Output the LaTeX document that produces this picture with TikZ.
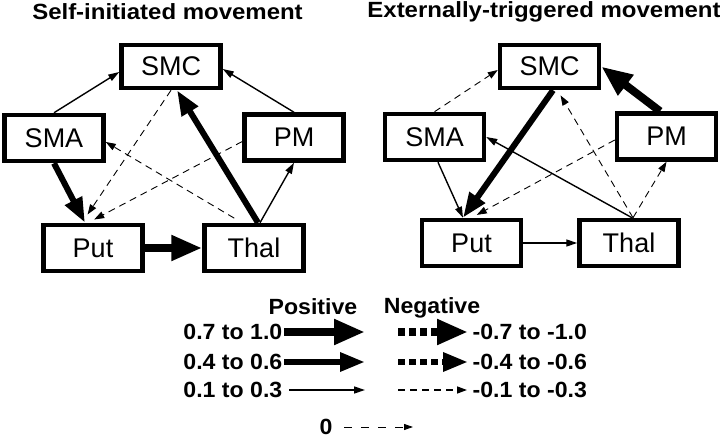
\documentclass[tikz,border=0pt]{standalone}
\usepackage{graphicx}
\usepackage{fontspec}
\setmainfont{Liberation Sans}
\usetikzlibrary{arrows.meta}
\newcommand{\stretchx}[2]{\scalebox{#1}[1]{#2}}

\begin{document}
\begin{tikzpicture}[x=1pt, y=-1pt,
  box/.style={draw, line width=4.5pt, minimum width=99pt, minimum height=46pt,
    inner sep=0pt, font=\fontsize{27}{30}\selectfont},
  title/.style={font=\fontsize{22}{24}\selectfont\bfseries},
  lab/.style={font=\fontsize{22}{24}\selectfont\bfseries, inner sep=1.5pt},
  pa/.style={line width=8pt, -{Triangle[length=31pt,width=24pt]}},
  pb/.style={line width=6pt, -{Triangle[length=25pt,width=18pt]}},
  pc/.style={line width=1.4pt, -{Triangle[length=11pt,width=7pt]}},
  na/.style={pa, dash pattern=on 7pt off 4pt},
  nb/.style={pb, dash pattern=on 7pt off 4pt},
  nc/.style={line width=0.9pt, dash pattern=on 7pt off 5pt, -{Triangle[length=10pt,width=7pt]}},
  nz/.style={line width=0.9pt, dash pattern=on 8pt off 9pt, -{Triangle[length=9pt,width=6pt]}}]
\useasboundingbox (0,0) rectangle (720,438);

%% titles
\node[title] (T1) at (167.5,11.5) {\stretchx{1.09}{Self-initiated movement}};
\node[title] (T2) at (544,11.5) {\stretchx{1.09}{Externally-triggered movement}};

%% left network
\node[box, minimum height=43pt] (SMC1) at (171,66.5) {SMC};
\node[box] (SMA1) at (54,138) {SMA};
\node[box] (PM1) at (294,137.5) {PM};
\node[box] (Put1) at (93,248) {Put};
\node[box] (Thal1) at (254,248) {Thal};

\draw[pc] (SMA1.north) -- ([yshift=-5.5pt]SMC1.west);
\draw[pc] (PM1.north) -- ([yshift=-2.5pt]SMC1.east);
\draw[nc, shorten >=10pt] (SMC1.south) -- ([xshift=-11pt]Put1.north);
\draw[nc, shorten >=7pt] ([yshift=-4pt]PM1.west) -- ([xshift=-5pt]Put1.north);
\draw[nc, shorten <=9pt] ([xshift=-12pt]Thal1.north) -- ([yshift=-4pt]SMA1.east);
\draw[pb] ([xshift=4pt]Thal1.north) -- ([xshift=6pt]SMC1.south);
\draw[pc] ([xshift=6pt]Thal1.north) -- (PM1.south);
\draw[pb] (SMA1.south) -- ([xshift=-8pt]Put1.north);
\draw[pa] (Put1.east) -- (Thal1.west);

%% right network
\node[box, minimum height=43pt] (SMC2) at (549.5,66.5) {SMC};
\node[box] (SMA2) at (434.5,137) {SMA};
\node[box] (PM2) at (666.5,136.5) {PM};
\node[box] (Put2) at (471.5,243) {Put};
\node[box] (Thal2) at (629,243) {Thal};

\draw[nc] (SMA2.north) -- ([yshift=-3.5pt]SMC2.west);
\draw[pb] ([xshift=3.5pt]SMC2.south) -- ([xshift=-8.5pt]Put2.north);
\draw[pa] ([xshift=-6.5pt]PM2.north) -- (SMC2.east);
\draw[nc, shorten >=6pt] ([xshift=4pt]Thal2.north) -- ([xshift=8pt]SMC2.south);
\draw[nc, shorten >=6pt] ([yshift=-3.5pt]PM2.west) -- (Put2.north);
\draw[pc] ([xshift=3pt]Thal2.north) -- (SMA2.east);
\draw[nc] ([xshift=4pt]Thal2.north) -- (PM2.south);
\draw[pc] ([xshift=3.5pt]SMA2.south) -- ([xshift=-8.5pt]Put2.north);
\draw[pc] (Put2.east) -- (Thal2.west);

%% legend
\node[lab] (pos) at (313,307) {\stretchx{1.05}{Positive}};
\node[lab] (neg) at (432,308) {\stretchx{1.05}{Negative}};

\node[lab, anchor=east] (r1) at (284,332) {\stretchx{1.05}{0.7 to 1.0}};
\node[lab, anchor=east] (r2) at (284,362) {\stretchx{1.05}{0.4 to 0.6}};
\node[lab, anchor=east] (r3) at (284,390) {\stretchx{1.05}{0.1 to 0.3}};
\node[lab, anchor=west] (s1) at (471,332) {\stretchx{1.05}{-0.7 to -1.0}};
\node[lab, anchor=west] (s2) at (471,362) {\stretchx{1.05}{-0.4 to -0.6}};
\node[lab, anchor=west] (s3) at (471,390) {\stretchx{1.05}{-0.1 to -0.3}};
\node[lab] (z0) at (326,427) {\stretchx{1.05}{0}};

\coordinate (p1) at (365,332);
\coordinate (p2) at (365,362);
\coordinate (p3) at (365,390);
\coordinate (q1) at (398,332);
\coordinate (q2) at (398,362);
\coordinate (q3) at (398,390);
\coordinate (z1) at (413,427);

\draw[pa] (r1.east) -- (p1);
\draw[pb] (r2.east) -- (p2);
\draw[pc, shorten <=5pt] (r3.east) -- (p3);
\draw[na, shorten >=3pt] (q1) -- (s1.west);
\draw[nb, shorten >=3pt] (q2) -- (s2.west);
\draw[nc, line width=1.3pt, shorten >=4pt] (q3) -- (s3.west);
\draw[nz, shorten <=10pt] (z0.east) -- (z1);
\end{tikzpicture}
\end{document}
